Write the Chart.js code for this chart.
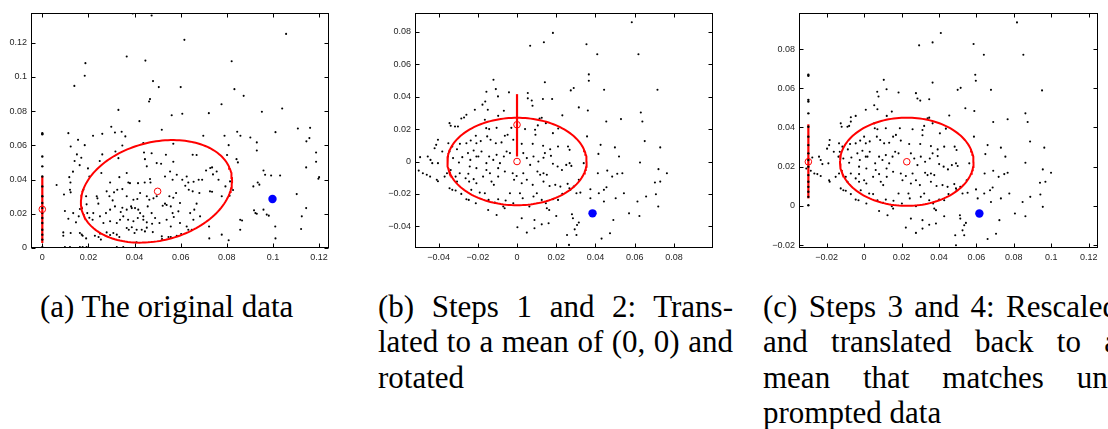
<!DOCTYPE html>
<html>
<head>
<meta charset="utf-8">
<script src="https://cdn.jsdelivr.net/npm/chart.js@4/dist/chart.umd.min.js"></script>
<style>
  html, body { margin:0; padding:0; background:#fff; width:1108px; height:429px; overflow:hidden; position:relative; }
  canvas { position:absolute; top:0; }
  .cap { position:absolute; font-family:"Liberation Serif", serif; font-size:31px; line-height:35.5px; color:#000; white-space:nowrap; }
  .j { text-align:justify; text-align-last:justify; white-space:normal; }
</style>
</head>
<body>
<canvas id="ca" width="340" height="265" style="left:0px;width:340px;height:265px"></canvas>
<canvas id="cb" width="350" height="265" style="left:370px;width:350px;height:265px"></canvas>
<canvas id="cc" width="358" height="265" style="left:750px;width:358px;height:265px"></canvas>

<div class="cap" style="left:40px;top:288.5px;">(a) The original data</div>
<div class="cap" style="left:378px;top:288.5px;width:355px;">
  <div class="j">(b) Steps 1 and 2: Trans-</div>
  <div class="j">lated to a mean of (0, 0) and</div>
  <div>rotated</div>
</div>
<div class="cap" style="left:763px;top:288.5px;width:355px;">
  <div class="j">(c) Steps 3 and 4: Rescaled</div>
  <div class="j">and translated back to a</div>
  <div class="j">mean that matches un-</div>
  <div>prompted data</div>
</div>

<script>
// ---------------- DATA ----------------
// Panel (a): original data
const pointsA = [[0.0392,0.1370],[0.0474,0.1358],[0.0616,0.1216],[0.1057,0.1251],[0.0366,0.1119],[0.0447,0.1095],[0.0821,0.1091],[0.0187,0.1080],[0.0184,0.1006],[0.0480,0.0975],[0.0139,0.0947],[0.0505,0.0940],[0.0600,0.0940],[0.0833,0.0928],[0.0873,0.0889],[0.0467,0.0870],[0.0463,0.0856],[0.0777,0.0840],[0.1040,0.0815],[0.0330,0.0807],[0.0952,0.0796],[0.0722,0.0788],[0.0607,0.0784],[0.0561,0.0776],[0.0421,0.0741],[0.0518,0.0691],[0.0299,0.0708],[0.1108,0.0698],[0.1161,0.0702],[0.0113,0.0671],[0.0315,0.0675],[0.0260,0.0667],[0.0344,0.0679],[0.0360,0.0652],[0.0859,0.0656],[0.0790,0.0656],[0.0845,0.0679],[0.1011,0.0677],[0.0698,0.0656],[0.0902,0.0646],[0.1158,0.0642],[0.0220,0.0656],[0.0155,0.0632],[0.1145,0.0623],[0.0930,0.0617],[0.0123,0.0593],[0.0184,0.0601],[0.0347,0.0599],[0.0438,0.0613],[0.0808,0.0601],[0.0568,0.0609],[0.0930,0.0570],[0.0150,0.0547],[0.0169,0.0527],[0.0260,0.0547],[0.0317,0.0564],[0.0441,0.0558],[0.0474,0.0554],[0.0652,0.0545],[0.0669,0.0543],[0.0536,0.0545],[0.0801,0.0543],[0.1187,0.0558],[0.0140,0.0508],[0.0162,0.0484],[0.0198,0.0465],[0.0249,0.0508],[0.0330,0.0525],[0.0445,0.0519],[0.0496,0.0496],[0.0515,0.0492],[0.0453,0.0477],[0.0568,0.0504],[0.0728,0.0467],[0.0736,0.0471],[0.0710,0.0453],[0.0842,0.0519],[0.0848,0.0500],[0.0959,0.0453],[0.0966,0.0428],[0.0992,0.0424],[0.1144,0.0471],[0.1187,0.0504],[0.1200,0.0414],[0.1197,0.0405],[0.1031,0.0424],[0.0117,0.0414],[0.0122,0.0383],[0.0133,0.0446],[0.0094,0.0313],[0.0062,0.0368],[0.0204,0.0418],[0.0256,0.0438],[0.0294,0.0383],[0.0334,0.0414],[0.0366,0.0438],[0.0373,0.0383],[0.0380,0.0379],[0.0415,0.0379],[0.0444,0.0383],[0.0467,0.0403],[0.0469,0.0383],[0.0532,0.0418],[0.0554,0.0447],[0.0565,0.0399],[0.0583,0.0428],[0.0607,0.0399],[0.0626,0.0418],[0.0633,0.0383],[0.0656,0.0387],[0.0678,0.0399],[0.0693,0.0399],[0.0740,0.0430],[0.0756,0.0447],[0.0764,0.0399],[0.0794,0.0360],[0.0814,0.0389],[0.0778,0.0302],[0.0812,0.0305],[0.0827,0.0339],[0.0178,0.0340],[0.0190,0.0302],[0.0236,0.0302],[0.0239,0.0290],[0.0243,0.0259],[0.0192,0.0255],[0.0172,0.0232],[0.0163,0.0228],[0.0195,0.0204],[0.0204,0.0177],[0.0158,0.0185],[0.0134,0.0204],[0.0113,0.0171],[0.0146,0.0150],[0.0098,0.0216],[0.0120,0.0340],[0.0123,0.0325],[0.0091,0.0091],[0.0091,0.0072],[0.0123,0.0088],[0.0163,0.0088],[0.0171,0.0078],[0.0175,0.0072],[0.0190,0.0056],[0.0228,0.0072],[0.0250,0.0084],[0.0244,0.0064],[0.0254,0.0049],[0.0279,0.0091],[0.0294,0.0076],[0.0308,0.0088],[0.0323,0.0078],[0.0334,0.0064],[0.0366,0.0117],[0.0375,0.0107],[0.0388,0.0121],[0.0400,0.0088],[0.0409,0.0107],[0.0431,0.0107],[0.0445,0.0097],[0.0453,0.0119],[0.0479,0.0093],[0.0409,0.0033],[0.0519,0.0053],[0.0518,0.0068],[0.0547,0.0064],[0.0557,0.0064],[0.0583,0.0072],[0.0602,0.0082],[0.0633,0.0107],[0.0648,0.0107],[0.0723,0.0126],[0.0724,0.0056],[0.0778,0.0078],[0.0808,0.0045],[0.0858,0.0107],[0.0858,0.0165],[0.0866,0.0161],[0.0918,0.0220],[0.0924,0.0204],[0.0930,0.0200],[0.0973,0.0195],[0.0982,0.0189],[0.0959,0.0224],[0.1010,0.0126],[0.1011,0.0056],[0.1103,0.0315],[0.1125,0.0185],[0.1144,0.0233],[0.1122,0.0111],[0.0934,0.0383],[0.0941,0.0370],[0.0915,0.0360],[0.0727,0.0331],[0.0736,0.0329],[0.0681,0.0321],[0.0652,0.0331],[0.0635,0.0340],[0.0620,0.0364],[0.0580,0.0321],[0.0551,0.0302],[0.0568,0.0294],[0.0532,0.0259],[0.0522,0.0247],[0.0539,0.0251],[0.0557,0.0243],[0.0590,0.0214],[0.0565,0.0204],[0.0570,0.0181],[0.0597,0.0146],[0.0641,0.0204],[0.0669,0.0259],[0.0659,0.0224],[0.0684,0.0185],[0.0597,0.0263],[0.0496,0.0302],[0.0482,0.0290],[0.0464,0.0282],[0.0453,0.0302],[0.0424,0.0321],[0.0412,0.0286],[0.0395,0.0282],[0.0385,0.0243],[0.0366,0.0224],[0.0347,0.0235],[0.0340,0.0210],[0.0315,0.0243],[0.0305,0.0278],[0.0291,0.0302],[0.0311,0.0325],[0.0325,0.0340],[0.0347,0.0344],[0.0279,0.0331],[0.0366,0.0302],[0.0388,0.0233],[0.0402,0.0233],[0.0416,0.0224],[0.0424,0.0204],[0.0438,0.0185],[0.0414,0.0175],[0.0395,0.0156],[0.0372,0.0165],[0.0351,0.0185],[0.0337,0.0165],[0.0323,0.0146],[0.0294,0.0156],[0.0265,0.0146],[0.0250,0.0185],[0.0221,0.0204],[0.0218,0.0165],[0.0276,0.0204],[0.0294,0.0224],[0.0457,0.0243],[0.0474,0.0204],[0.0489,0.0175],[0.0508,0.0146],[0.0476,0.0142],[0.0453,0.0150],[0.0438,0.0165],[0.0539,0.0165],[0.0557,0.0126],[0.0626,0.0126],[0.0655,0.0165],[0.0098,0.0005],[0.0120,0.0005],[0.0163,0.0005],[0.0175,0.0005],[0.0192,0.0005],[0.0323,0.0005],[0.0351,0.0005]];
const columnA_x = 0;
const columnA_y = [0.0670,0.0664,0.0535,0.0477,0.0418,0.0360,0.0302,0.0263,0.0233,0.0204,0.0175,0.0146,0.0107,0.0078,0.0049,0.0005];
const barA = [[0, 0.0029],[0, 0.0418]];
const meansA = [[0, 0.0226],[0.0500, 0.0331]];
const targetA = [[0.0998, 0.0286]];
const ellipseA = {cx:0.0495, cy:0.0331, ux:0.03234, uy:0.01109, vx:-0.00528, vy:0.02784};

// Panel (b): translated to mean (0,0) and rotated
const pointsB = [[0.0585,0.0860],[0.0183,0.0794],[0.0137,0.0736],[0.0067,0.0715],[0.0354,0.0724],[0.0409,0.0662],[0.0619,0.0662],[0.0366,0.0538],[0.0366,0.0499],[-0.0120,0.0505],[0.0142,0.0489],[-0.0108,0.0447],[-0.0156,0.0431],[-0.0041,0.0427],[0.0055,0.0423],[-0.0097,0.0402],[0.0274,0.0439],[0.0289,0.0454],[0.0444,0.0443],[0.0716,0.0443],[0.0055,0.0390],[0.0075,0.0377],[0.0132,0.0386],[0.0179,0.0386],[0.0079,0.0344],[-0.0176,0.0351],[-0.0162,0.0371],[-0.0215,0.0320],[-0.0149,0.0320],[0.0315,0.0334],[0.0361,0.0315],[-0.0067,0.0313],[-0.0258,0.0289],[-0.0270,0.0272],[-0.0096,0.0282],[0.0231,0.0285],[0.0530,0.0262],[0.0455,0.0247],[0.0631,0.0303],[0.0639,0.0247],[0.0115,0.0266],[0.0126,0.0270],[-0.0344,0.0237],[-0.0338,0.0221],[-0.0316,0.0216],[-0.0301,0.0216],[-0.0284,0.0266],[-0.0164,0.0258],[-0.0157,0.0206],[-0.0142,0.0200],[-0.0104,0.0208],[-0.0029,0.0208],[0.0041,0.0200],[0.0092,0.0196],[0.0106,0.0223],[0.0147,0.0237],[0.0183,0.0175],[0.0210,0.0204],[0.0357,0.0155],[0.0651,0.0126],[-0.0403,0.0134],[-0.0350,0.0113],[-0.0330,0.0093],[-0.0412,0.0103],[-0.0420,0.0082],[-0.0381,0.0062],[-0.0306,0.0076],[-0.0291,0.0109],[-0.0258,0.0113],[-0.0236,0.0130],[-0.0210,0.0159],[-0.0207,0.0113],[-0.0185,0.0126],[-0.0152,0.0155],[-0.0135,0.0134],[-0.0108,0.0113],[-0.0079,0.0118],[-0.0062,0.0159],[-0.0048,0.0165],[-0.0019,0.0134],[0.0024,0.0109],[0.0080,0.0109],[0.0094,0.0165],[0.0133,0.0097],[0.0142,0.0052],[0.0169,0.0076],[0.0209,0.0093],[0.0260,0.0093],[0.0268,0.0072],[0.0426,0.0103],[0.0415,0.0047],[0.0499,0.0087],[0.0520,0.0031],[0.0730,0.0087],[0.0627,-0.0006],[-0.0455,0.0031],[-0.0494,0.0027],[-0.0441,0.0010],[-0.0432,-0.0010],[-0.0403,-0.0010],[-0.0344,0.0062],[-0.0352,0.0031],[-0.0326,0.0021],[-0.0296,-0.0006],[-0.0279,0.0027],[-0.0250,0.0052],[-0.0238,0.0010],[-0.0221,0.0068],[-0.0207,0.0031],[-0.0197,0.0031],[-0.0181,0.0062],[-0.0156,-0.0010],[-0.0142,0.0031],[-0.0121,0.0010],[-0.0104,0.0041],[-0.0087,-0.0010],[-0.0067,0.0031],[-0.0053,0.0062],[-0.0036,0.0052],[0.0032,0.0052],[0.0050,0.0021],[0.0067,-0.0021],[0.0084,0.0031],[0.0109,0.0000],[0.0135,0.0023],[0.0173,0.0035],[0.0183,-0.0014],[0.0207,-0.0031],[0.0229,-0.0052],[0.0251,-0.0021],[0.0268,-0.0010],[0.0277,-0.0027],[0.0340,-0.0010],[0.0537,-0.0072],[0.0764,-0.0072],[0.0721,-0.0047],[-0.0523,-0.0041],[-0.0501,-0.0056],[-0.0480,-0.0072],[-0.0460,-0.0082],[-0.0443,-0.0093],[-0.0409,-0.0113],[-0.0403,-0.0122],[-0.0369,-0.0093],[-0.0338,-0.0052],[-0.0357,-0.0072],[-0.0313,-0.0093],[-0.0306,-0.0124],[-0.0292,-0.0072],[-0.0262,-0.0103],[-0.0248,-0.0076],[-0.0221,-0.0109],[-0.0207,-0.0134],[-0.0173,-0.0093],[-0.0138,-0.0072],[-0.0130,-0.0124],[-0.0118,-0.0144],[-0.0096,-0.0093],[-0.0062,-0.0062],[-0.0022,-0.0072],[-0.0015,-0.0113],[-0.0002,-0.0089],[0.0024,-0.0134],[0.0032,-0.0072],[0.0050,-0.0113],[0.0080,-0.0144],[0.0104,-0.0062],[0.0118,-0.0082],[0.0135,-0.0072],[0.0152,-0.0082],[0.0135,-0.0124],[0.0166,-0.0151],[0.0195,-0.0144],[0.0221,-0.0155],[0.0258,-0.0138],[0.0267,-0.0165],[0.0289,-0.0155],[0.0315,-0.0113],[0.0412,-0.0072],[0.0460,-0.0056],[0.0485,-0.0093],[0.0511,-0.0076],[-0.0344,-0.0165],[-0.0330,-0.0175],[-0.0313,-0.0179],[-0.0284,-0.0200],[-0.0258,-0.0233],[-0.0246,-0.0237],[-0.0210,-0.0258],[-0.0190,-0.0192],[-0.0164,-0.0196],[-0.0145,-0.0237],[-0.0113,-0.0254],[-0.0096,-0.0233],[-0.0070,-0.0278],[-0.0063,-0.0289],[-0.0058,-0.0241],[-0.0036,-0.0196],[-0.0019,-0.0258],[0.0015,-0.0196],[0.0029,-0.0227],[0.0063,-0.0278],[0.0084,-0.0216],[0.0101,-0.0196],[0.0126,-0.0237],[0.0147,-0.0258],[0.0183,-0.0233],[0.0209,-0.0237],[0.0231,-0.0200],[0.0272,-0.0175],[0.0303,-0.0196],[0.0374,-0.0171],[0.0417,-0.0196],[0.0443,-0.0175],[0.0456,-0.0159],[0.0503,-0.0227],[0.0323,-0.0192],[-0.0147,-0.0299],[-0.0104,-0.0330],[0.0152,-0.0289],[0.0164,-0.0299],[0.0200,-0.0336],[0.0280,-0.0326],[0.0285,-0.0350],[0.0315,-0.0377],[0.0306,-0.0392],[0.0294,-0.0419],[0.0374,-0.0227],[0.0443,-0.0247],[0.0545,-0.0196],[0.0614,-0.0247],[0.0571,-0.0320],[0.0624,-0.0336],[0.0658,-0.0216],[0.0703,-0.0130],[0.0730,-0.0124],[0.0708,-0.0202],[0.0720,-0.0278],[0.0024,-0.0350],[0.0002,-0.0406],[0.0050,-0.0439],[0.0089,-0.0361],[0.0089,-0.0412],[0.0126,-0.0388],[0.0161,-0.0381],[0.0255,-0.0454],[0.0265,-0.0515],[0.0303,-0.0454],[0.0431,-0.0476],[0.0474,-0.0443],[0.0491,-0.0361],[-0.0241,-0.0031],[-0.0207,-0.0041],[-0.0096,-0.0041],[-0.0156,-0.0052],[-0.0233,-0.0175],[-0.0244,-0.0124]];
const barB = [[0, 0.0031],[0, 0.0416]];
const meansB = [[0, 0.0227],[0, 0]];
const targetB = [[0.0385, -0.0320]];
const ellipseB = {cx:0, cy:0, ux:0.0355, uy:0, vx:0, vy:0.0270};

// Panel (c): rescaled and translated back
const pointsC = [[0.0817,0.0936],[0.0410,0.0882],[0.0294,0.0819],[0.0366,0.0834],[0.0585,0.0826],[0.0640,0.0771],[0.0851,0.0771],[0.0594,0.0669],[0.0597,0.0638],[0.0105,0.0643],[0.0366,0.0629],[0.0120,0.0595],[0.0070,0.0582],[0.0184,0.0578],[0.0277,0.0575],[0.0500,0.0592],[0.0516,0.0602],[0.0678,0.0592],[0.0951,0.0589],[0.0285,0.0548],[0.0300,0.0537],[0.0348,0.0544],[0.0077,0.0558],[0.0054,0.0513],[0.0009,0.0490],[0.0071,0.0493],[0.0541,0.0498],[0.0589,0.0484],[0.0148,0.0481],[-0.0045,0.0459],[-0.0071,0.0452],[0.0121,0.0459],[0.0455,0.0461],[0.0862,0.0472],[0.0874,0.0428],[0.0767,0.0442],[0.0690,0.0428],[0.0339,0.0447],[0.0348,0.0450],[-0.0125,0.0421],[-0.0120,0.0404],[-0.0089,0.0404],[-0.0080,0.0408],[-0.0071,0.0430],[0.0054,0.0421],[0.0057,0.0396],[0.0071,0.0391],[0.0116,0.0396],[0.0191,0.0396],[0.0259,0.0391],[0.0312,0.0387],[0.0321,0.0408],[0.0366,0.0421],[0.0405,0.0370],[0.0437,0.0394],[0.0587,0.0353],[0.0887,0.0328],[-0.0184,0.0336],[-0.0134,0.0319],[-0.0116,0.0302],[-0.0187,0.0310],[-0.0198,0.0292],[-0.0162,0.0276],[-0.0087,0.0288],[-0.0075,0.0316],[-0.0045,0.0319],[-0.0021,0.0333],[0.0000,0.0353],[0.0009,0.0319],[0.0030,0.0329],[0.0068,0.0353],[0.0086,0.0336],[0.0107,0.0319],[0.0134,0.0322],[0.0155,0.0353],[0.0170,0.0362],[0.0196,0.0333],[0.0241,0.0316],[0.0300,0.0316],[0.0312,0.0360],[0.0357,0.0305],[0.0366,0.0268],[0.0393,0.0288],[0.0428,0.0302],[0.0484,0.0302],[0.0494,0.0285],[0.0660,0.0310],[0.0648,0.0264],[0.0731,0.0297],[0.0755,0.0251],[0.0963,0.0297],[0.0862,0.0220],[-0.0241,0.0251],[-0.0277,0.0247],[-0.0232,0.0234],[-0.0223,0.0213],[-0.0191,0.0217],[-0.0130,0.0276],[-0.0137,0.0251],[-0.0111,0.0242],[-0.0080,0.0220],[-0.0068,0.0247],[-0.0036,0.0268],[-0.0023,0.0234],[-0.0009,0.0281],[0.0009,0.0251],[0.0018,0.0251],[0.0030,0.0276],[0.0059,0.0217],[0.0080,0.0251],[0.0098,0.0234],[0.0116,0.0259],[0.0134,0.0217],[0.0152,0.0251],[0.0166,0.0276],[0.0184,0.0268],[0.0250,0.0268],[0.0268,0.0242],[0.0285,0.0208],[0.0303,0.0251],[0.0326,0.0225],[0.0351,0.0242],[0.0393,0.0254],[0.0401,0.0213],[0.0425,0.0200],[0.0448,0.0186],[0.0469,0.0208],[0.0491,0.0217],[0.0500,0.0203],[0.0562,0.0217],[0.0767,0.0169],[0.0999,0.0169],[0.0955,0.0186],[-0.0309,0.0191],[-0.0285,0.0179],[-0.0266,0.0165],[-0.0250,0.0162],[-0.0232,0.0152],[-0.0187,0.0131],[-0.0184,0.0123],[-0.0152,0.0148],[-0.0120,0.0179],[-0.0134,0.0165],[-0.0098,0.0148],[-0.0089,0.0123],[-0.0071,0.0165],[-0.0045,0.0140],[-0.0027,0.0162],[0.0000,0.0131],[0.0012,0.0114],[0.0048,0.0148],[0.0080,0.0162],[0.0089,0.0123],[0.0102,0.0106],[0.0121,0.0148],[0.0155,0.0174],[0.0196,0.0165],[0.0205,0.0131],[0.0223,0.0152],[0.0250,0.0114],[0.0259,0.0165],[0.0277,0.0131],[0.0298,0.0106],[0.0326,0.0169],[0.0339,0.0157],[0.0357,0.0165],[0.0375,0.0157],[0.0357,0.0123],[0.0387,0.0101],[0.0419,0.0106],[0.0446,0.0097],[0.0482,0.0111],[0.0491,0.0089],[0.0514,0.0097],[0.0548,0.0131],[0.0644,0.0165],[0.0690,0.0179],[0.0719,0.0148],[0.0749,0.0162],[-0.0125,0.0089],[-0.0111,0.0080],[-0.0098,0.0077],[-0.0071,0.0060],[-0.0045,0.0032],[-0.0030,0.0029],[0.0012,0.0012],[0.0027,0.0063],[0.0048,0.0060],[0.0071,0.0029],[0.0102,0.0015],[0.0116,0.0032],[0.0148,-0.0002],[0.0155,-0.0014],[0.0157,0.0026],[0.0184,0.0063],[0.0202,0.0012],[0.0237,0.0063],[0.0244,0.0038],[0.0277,-0.0002],[0.0303,0.0046],[0.0321,0.0063],[0.0348,0.0029],[0.0369,0.0012],[0.0401,0.0032],[0.0428,0.0029],[0.0451,0.0060],[0.0494,0.0080],[0.0526,0.0063],[0.0598,0.0084],[0.0642,0.0063],[0.0673,0.0080],[0.0687,0.0094],[0.0731,0.0038],[0.0553,0.0067],[0.0080,-0.0026],[0.0125,-0.0048],[0.0375,-0.0014],[0.0384,-0.0022],[0.0428,-0.0053],[0.0512,-0.0048],[0.0514,-0.0065],[0.0544,-0.0087],[0.0535,-0.0099],[0.0526,-0.0125],[0.0607,0.0038],[0.0678,0.0020],[0.0776,0.0063],[0.0847,0.0020],[0.0806,-0.0039],[0.0862,-0.0053],[0.0888,0.0046],[0.0940,0.0118],[0.0969,0.0123],[0.0942,0.0058],[0.0955,-0.0005],[0.0250,-0.0065],[0.0223,-0.0111],[0.0277,-0.0138],[0.0312,-0.0073],[0.0312,-0.0116],[0.0348,-0.0096],[0.0384,-0.0090],[0.0487,-0.0150],[0.0491,-0.0201],[0.0535,-0.0150],[0.0660,-0.0169],[0.0705,-0.0142],[0.0723,-0.0073],[-0.0027,0.0200],[0.0012,0.0191],[0.0120,0.0191],[0.0062,0.0183],[-0.0018,0.0080],[-0.0027,0.0123]];
const columnC_x = -0.0298;
const columnC_y = [0.0669,0.0664,0.0541,0.0532,0.0472,0.0404,0.0353,0.0310,0.0268,0.0234,0.0200,0.0157,0.0123,0.0097,0.0072,0.0046,0.0003];
const barC = [[-0.0298, 0.0038],[-0.0298, 0.0416]];
const meansC = [[-0.0298, 0.0225],[0.0228, 0.0225]];
const targetC = [[0.0616, -0.0039]];
const ellipseC = {cx:0.0228, cy:0.0225, ux:0.0357, uy:0, vx:0, vy:0.0225};

// Axis ranges and ticks
const rangeA = {xmin:-0.0049, xmax:0.1243, ymin:0, ymax:0.1373};
const rangeB = {xmin:-0.0520, xmax:0.0999, ymin:-0.0534, ymax:0.0917};
const rangeC = {xmin:-0.0348, xmax:0.1250, ymin:-0.0215, ymax:0.0984};
const ticksAx = [0,0.02,0.04,0.06,0.08,0.1,0.12];
const labelsAx = ['0','0.02','0.04','0.06','0.08','0.1','0.12'];
const ticksAy = [0,0.02,0.04,0.06,0.08,0.1,0.12];
const labelsAy = ['0','0.02','0.04','0.06','0.08','0.1','0.12'];
const ticksBx = [-0.04,-0.02,0,0.02,0.04,0.06,0.08];
const labelsBx = ['\u22120.04','\u22120.02','0','0.02','0.04','0.06','0.08'];
const ticksBy = [-0.04,-0.02,0,0.02,0.04,0.06,0.08];
const labelsBy = ['\u22120.04','\u22120.02','0','0.02','0.04','0.06','0.08'];
const ticksCx = [-0.02,0,0.02,0.04,0.06,0.08,0.1,0.12];
const labelsCx = ['\u22120.02','0','0.02','0.04','0.06','0.08','0.1','0.12'];
const ticksCy = [-0.02,0,0.02,0.04,0.06,0.08];
const labelsCy = ['\u22120.02','0','0.02','0.04','0.06','0.08'];

// ---------------- DRAWING ----------------
const RED = '#ff0000', BLUE = '#0000ff';
const toXY = arr => arr.map(p => ({x:p[0], y:p[1]}));
function ellipsePts(e){
  const out = [];
  const n = 160;
  for (let i = 0; i <= n; i++){
    const t = 2*Math.PI*i/n;
    out.push({x: e.cx + e.ux*Math.cos(t) + e.vx*Math.sin(t), y: e.cy + e.uy*Math.cos(t) + e.vy*Math.sin(t)});
  }
  return out;
}

const boxPlugin = {
  id: 'matlabBox',
  afterDatasetsDraw(chart, args, opts){
    const {ctx, chartArea: a, scales: {x, y}} = chart;
    const tx = opts.ticksX || [], ty = opts.ticksY || [];
    ctx.save();
    ctx.strokeStyle = '#000';
    ctx.lineWidth = 1;
    const L = Math.round(a.left) + 0.5, R = Math.round(a.right) - 0.5;
    const T = Math.round(a.top) + 0.5, B = Math.round(a.bottom) - 0.5;
    ctx.strokeRect(L, T, R - L, B - T);
    const tl = 4;
    ctx.beginPath();
    tx.forEach(v => {
      const px = Math.round(x.getPixelForValue(v)) + 0.5;
      ctx.moveTo(px, B); ctx.lineTo(px, B - tl);
      ctx.moveTo(px, T); ctx.lineTo(px, T + tl);
    });
    ty.forEach(v => {
      const py = Math.round(y.getPixelForValue(v)) + 0.5;
      ctx.moveTo(L, py); ctx.lineTo(L + tl, py);
      ctx.moveTo(R, py); ctx.lineTo(R - tl, py);
    });
    ctx.stroke();
    ctx.restore();
  }
};

function makePanel(id, cfg){
  const tickFont = {family: '"Liberation Sans", Arial, sans-serif', size: 9};
  const datasets = [
    {type:'scatter', data: toXY(cfg.target), pointRadius: 4.2, pointBackgroundColor: BLUE, pointBorderColor: BLUE, pointBorderWidth: 0},
    {type:'scatter', data: toXY(cfg.means), pointRadius: 3.3, pointBackgroundColor: 'rgba(255,255,255,0)', pointBorderColor: RED, pointBorderWidth: 1},
    {type:'scatter', data: cfg.colY ? cfg.colY.map(v => ({x: cfg.colX, y: v})) : [], pointRadius: 1.2, pointBackgroundColor: '#000', pointBorderWidth: 0},
    {type:'line', data: ellipsePts(cfg.ellipse), borderColor: RED, borderWidth: 2, pointRadius: 0, tension: 0, fill: false},
    {type:'line', data: toXY(cfg.bar), borderColor: RED, borderWidth: 2.2, pointRadius: 0, fill: false},
    {type:'scatter', data: toXY(cfg.points), pointRadius: 1.05, pointBackgroundColor: '#000', pointBorderWidth: 0}
  ];
  return new Chart(document.getElementById(id), {
    data: { datasets },
    options: {
      responsive: false, animation: false, devicePixelRatio: 1,
      layout: { padding: { top: cfg.padTop, right: cfg.padRight, left: 0, bottom: 0 } },
      plugins: { legend: {display:false}, tooltip: {enabled:false}, matlabBox: {ticksX: cfg.ticksX, ticksY: cfg.ticksY} },
      elements: { line: { borderCapStyle: 'butt' } },
      scales: {
        x: {
          type: 'linear', position: 'bottom', min: cfg.range.xmin, max: cfg.range.xmax,
          grid: {display:false, drawTicks:false}, border: {display:false},
          afterFit: s => { s.height = cfg.xAxisH; },
          afterBuildTicks: s => { s.ticks = cfg.ticksX.map(v => ({value: v})); },
          ticks: { autoSkip:false, maxRotation:0, padding: 4, font: tickFont, color: '#262626',
                   callback: (v, i) => cfg.labelsX[i] }
        },
        y: {
          type: 'linear', position: 'left', min: cfg.range.ymin, max: cfg.range.ymax,
          grid: {display:false, drawTicks:false}, border: {display:false},
          afterFit: s => { s.width = cfg.yAxisW; },
          afterBuildTicks: s => { s.ticks = cfg.ticksY.map(v => ({value: v})); },
          ticks: { autoSkip:false, padding: 4, font: tickFont, color: '#262626',
                   callback: (v, i) => cfg.labelsY[i] }
        }
      }
    },
    plugins: [boxPlugin]
  });
}

makePanel('ca', {points: pointsA, colX: columnA_x, colY: columnA_y, bar: barA, means: meansA, target: targetA, ellipse: ellipseA,
  range: rangeA, ticksX: ticksAx, labelsX: labelsAx, ticksY: ticksAy, labelsY: labelsAy,
  padTop: 13, padRight: 11, yAxisW: 31, xAxisH: 17});
makePanel('cb', {points: pointsB, colY: null, bar: barB, means: meansB, target: targetB, ellipse: ellipseB,
  range: rangeB, ticksX: ticksBx, labelsX: labelsBx, ticksY: ticksBy, labelsY: labelsBy,
  padTop: 13, padRight: 7, yAxisW: 45, xAxisH: 17});
makePanel('cc', {points: pointsC, colX: columnC_x, colY: columnC_y, bar: barC, means: meansC, target: targetC, ellipse: ellipseC,
  range: rangeC, ticksX: ticksCx, labelsX: labelsCx, ticksY: ticksCy, labelsY: labelsCy,
  padTop: 13, padRight: 10, yAxisW: 49, xAxisH: 17});
</script>
</body>
</html>
